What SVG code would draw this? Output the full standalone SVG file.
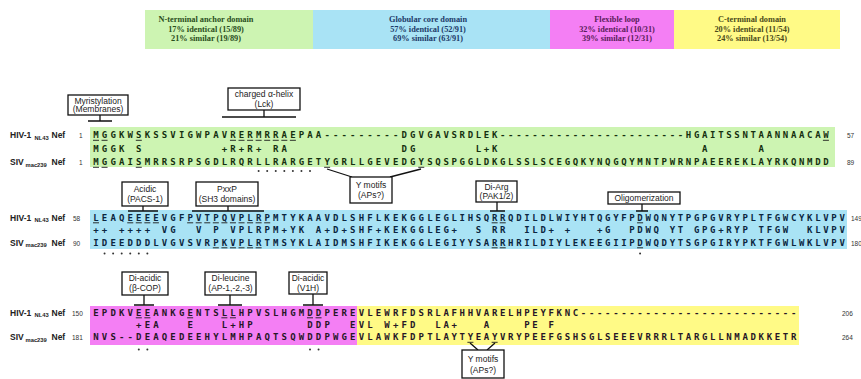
<svg xmlns="http://www.w3.org/2000/svg" width="861" height="379" viewBox="0 0 861 379">
<defs>
<style>
.hdr{font-family:"Liberation Serif",serif;font-weight:bold;font-size:8.3px;text-anchor:middle}
.lab{font-family:"Liberation Sans",Arial,sans-serif;font-size:8.5px;text-anchor:middle;fill:#222}
.box{fill:#fff;stroke:#111;stroke-width:1.3}
.tee{stroke:#111;stroke-width:1.3;fill:none}
.seq{font-family:"DejaVu Sans Mono",monospace;font-weight:bold;font-size:9px;white-space:pre}
.L{letter-spacing:3.142px}
.R{letter-spacing:2.662px}
.name{font-family:"Liberation Sans",Arial,sans-serif;font-weight:bold;font-size:8.5px;fill:#222}
.sub{font-size:5.8px}
.num{font-family:"Liberation Sans",Arial,sans-serif;font-size:6.5px;fill:#333}
.ul{stroke:#1a1a1a;stroke-width:0.9;fill:none}
.dot{fill:#333}
.g{fill:#cdf4b2}.c{fill:#a9e3f5}.m{fill:#f47ff4}.y{fill:#fffa86}
</style>
</defs>
<rect width="861" height="379" fill="#fff"/>

<g id="header">
<rect class="g" x="145" y="10" width="168" height="39"/>
<rect class="c" x="313" y="10" width="237" height="39"/>
<rect class="m" x="550" y="10" width="124" height="39"/>
<rect class="y" x="674" y="10" width="166" height="39"/>
<g class="hdr" fill="#2a4e1c">
<text x="206" y="22">N-terminal anchor domain</text>
<text x="206" y="32">17% identical (15/89)</text>
<text x="206" y="41">21% similar (19/89)</text>
</g>
<g class="hdr" fill="#1c3a68">
<text x="428" y="22">Globular core domain</text>
<text x="428" y="32">57% identical (52/91)</text>
<text x="428" y="41">69% similar (63/91)</text>
</g>
<g class="hdr" fill="#5a1c5a">
<text x="617" y="22">Flexible loop</text>
<text x="617" y="32">32% identical (10/31)</text>
<text x="617" y="41">39% similar (12/31)</text>
</g>
<g class="hdr" fill="#4a4a1a">
<text x="752" y="22">C-terminal domain</text>
<text x="752" y="32">20% identical (11/54)</text>
<text x="752" y="41">24% similar (13/54)</text>
</g>
</g>

<g id="bands">
<rect class="g" x="90" y="127" width="745" height="40"/>
<rect class="c" x="90" y="210" width="757" height="39"/>
<rect class="m" x="90" y="306" width="267" height="39"/>
<rect class="y" x="357" y="306" width="442" height="39"/>
</g>

<g id="labels">
<text class="name" x="10" y="138">HIV-1<tspan class="sub" x="34.5" dy="1.5">NL43</tspan><tspan x="51.5" dy="-1.5">Nef</tspan></text>
<text class="name" x="10" y="165">SIV<tspan class="sub" x="25.5" dy="1.5">mac239</tspan><tspan x="51.5" dy="-1.5">Nef</tspan></text>
<text class="name" x="10" y="220.5">HIV-1<tspan class="sub" x="34.5" dy="1.5">NL43</tspan><tspan x="51.5" dy="-1.5">Nef</tspan></text>
<text class="name" x="10" y="245.5">SIV<tspan class="sub" x="25.5" dy="1.5">mac239</tspan><tspan x="51.5" dy="-1.5">Nef</tspan></text>
<text class="name" x="10" y="315.5">HIV-1<tspan class="sub" x="34.5" dy="1.5">NL43</tspan><tspan x="51.5" dy="-1.5">Nef</tspan></text>
<text class="name" x="10" y="340">SIV<tspan class="sub" x="25.5" dy="1.5">mac239</tspan><tspan x="51.5" dy="-1.5">Nef</tspan></text>
<g class="num">
<text x="79" y="138">1</text><text x="79" y="165">1</text>
<text x="73" y="220.5">58</text><text x="73" y="245.5">90</text>
<text x="72" y="315.5">150</text><text x="72" y="340">181</text>
<text x="847" y="138">57</text><text x="847" y="165">89</text>
<text x="851" y="220.5">149</text><text x="851" y="245.5">180</text>
<text x="842" y="315.5">206</text><text x="842" y="340">264</text>
</g>
</g>

<g id="block1" class="seq" fill="#15300f">
<text class="L" x="93.29" y="138">MGGKWSKSSVIGWPAVRERMRRAEPAA---------DGVG</text>
<text class="R" x="435.37" y="138">AVSRDLEK-----------------------HGAITSSNTAANNAACAW</text>
<text class="L" x="93.29" y="151.5" xml:space="preserve">MGGK S         +R+R+ RA             DG</text>
<text class="R" x="435.37" y="151.5" xml:space="preserve">     L+K                         A      A</text>
<text class="L" x="93.29" y="165">MGGAISMRRSRPSGDLRQRLLRARGETYGRLLGEVEDGYS</text>
<text class="R" x="435.37" y="165">QSPGGLDKGLSSLSCEGQKYNQGQYMNTPWRNPAEEREKLAYRKQNMDD</text>
</g>

<g id="block2" class="seq" fill="#0b2640">
<text class="L" x="93.29" y="220.5">LEAQEEEEVGFPVTPQVPLRPMTYKAAVDLSHFLKEKGGL</text>
<text class="R" x="435.37" y="220.5">EGLIHSQRRQDILDLWIYHTQGYFPDWQNYTPGPGVRYPLTFGWCYKLVPV</text>
<text class="L" x="93.29" y="233" xml:space="preserve">++ ++++ VG  V P VPLRPM+YK A+D+SHF+KEKGGL</text>
<text class="R" x="435.37" y="233" xml:space="preserve">EG+  S RR  ILD+ +   +G  PDWQ YT GPG+RYP TFGW  KLVPV</text>
<text class="L" x="93.29" y="245.5">IDEEDDDLVGVSVRPKVPLRTMSYKLAIDMSHFIKEKGGL</text>
<text class="R" x="435.37" y="245.5">EGIYYSARRHRILDIYLEKEEGIIPDWQDYTSGPGIRYPKTFGWLWKLVPV</text>
</g>

<g id="block3" class="seq" fill="#261626">
<text class="L" x="93.29" y="315.5">EPDKVEEANKGENTSLLHPVSLHGMDDPEREVLEWRFDSR</text>
<text class="R" x="435.37" y="315.5">LAFHHVARELHPEYFKNC---------------------------</text>
<text class="L" x="93.29" y="328" xml:space="preserve">     +EA   E   L+HP      DDP  EVL W+FD</text>
<text class="R" x="435.37" y="328" xml:space="preserve">LA+   A    PE F</text>
<text class="L" x="93.29" y="340">NVS--DEAQEDEEHYLMHPAQTSQWDDPWGEVLAWKFDPT</text>
<text class="R" x="435.37" y="340">LAYTYEAYVRYPEEFGSHSGLSEEEVRRRLTARGLLNMADKKETR</text>
</g>

<g id="underlines" class="ul">
<path d="M93 140.3h6M101.56 140.3h6M135.8 140.3h6M229.96 140.3h6M238.52 140.3h6M247.08 140.3h6M255.64 140.3h6M264.2 140.3h6M272.76 140.3h6M281.32 140.3h6M289.88 140.3h6M822.92 140.3h6"/>
<path d="M93 167.3h6M101.56 167.3h6M135.8 167.3h6M324.12 167.3h6M418.28 167.3h6"/>
<path d="M93 222.8h6M127.24 222.8h6M135.8 222.8h6M144.36 222.8h6M152.92 222.8h6M187.16 222.8h6M195.72 222.8h6M204.28 222.8h6M212.84 222.8h6M221.4 222.8h6M229.96 222.8h6M238.52 222.8h6M247.08 222.8h6M255.64 222.8h6M264.2 222.8h6M491.64 222.8h6M499.72 222.8h6M637.08 222.8h6"/>
<path d="M212.84 247.8h6M221.4 247.8h6M229.96 247.8h6M238.52 247.8h6M247.08 247.8h6M255.64 247.8h6M491.64 247.8h6M499.72 247.8h6M637.08 247.8h6"/>
<path d="M135.8 317.8h6M144.36 317.8h6M187.16 317.8h6M221.4 317.8h6M229.96 317.8h6M307 317.8h6M315.56 317.8h6"/>
<path d="M467.4 342.3h6M491.64 342.3h6"/>
</g>

<g id="dots" class="dot">
<circle cx="258.64" cy="171" r="1"/><circle cx="267.2" cy="171" r="1"/><circle cx="275.76" cy="171" r="1"/><circle cx="284.32" cy="171" r="1"/><circle cx="292.88" cy="171" r="1"/><circle cx="301.44" cy="171" r="1"/><circle cx="310" cy="171" r="1"/>
<circle cx="104.56" cy="253.5" r="1"/><circle cx="113.12" cy="253.5" r="1"/><circle cx="121.68" cy="253.5" r="1"/><circle cx="130.24" cy="253.5" r="1"/><circle cx="138.8" cy="253.5" r="1"/><circle cx="147.36" cy="253.5" r="1"/><circle cx="640.08" cy="253.5" r="1"/>
<circle cx="138.8" cy="349.5" r="1"/><circle cx="147.36" cy="349.5" r="1"/><circle cx="310" cy="349.5" r="1"/><circle cx="318.56" cy="349.5" r="1"/>
</g>

<g id="connectors" class="tee">
<path d="M100 115V121M88 121H112"/>
<path d="M264 110V117M222 117H296"/>
<path d="M327 169L352 177M421 169L390 177"/>
<path d="M143 206V211M128 211H158"/>
<path d="M228 206V211M192 211H264"/>
<path d="M497 202V211M490 211H505"/>
<path d="M642 204V211M636 211H648"/>
<path d="M144 295V305M134 305H154"/>
<path d="M230 295V305M218 305H242"/>
<path d="M313 294V305M303 305H323"/>
<path d="M470 343L478 350M495 343L487 350"/>
</g>

<g id="n-myr"><rect class="box" x="68" y="95" width="60" height="20"/><text class="lab" x="98" y="103.5">Myristylation</text><text class="lab" x="98" y="112">(Membranes)</text></g>
<g id="n-helix"><rect class="box" x="228" y="88" width="72" height="22"/><text class="lab" x="264" y="97">charged α-helix</text><text class="lab" x="264" y="106.5">(Lck)</text></g>
<g id="n-ymotif1"><rect class="box" x="350" y="177" width="42" height="26"/><text class="lab" x="371" y="187.5">Y motifs</text><text class="lab" x="371" y="198">(APs?)</text></g>
<g id="n-acidic"><rect class="box" x="122" y="182" width="46" height="24"/><text class="lab" x="145" y="191.5">Acidic</text><text class="lab" x="145" y="201.5">(PACS-1)</text></g>
<g id="n-pxxp"><rect class="box" x="196" y="182" width="62" height="24"/><text class="lab" x="227" y="191.5">PxxP</text><text class="lab" x="227" y="201.5">(SH3 domains)</text></g>
<g id="n-diarg"><rect class="box" x="476" y="181" width="41" height="21"/><text class="lab" x="496.5" y="189.5">Di-Arg</text><text class="lab" x="496.5" y="199">(PAK1/2)</text></g>
<g id="n-oligo"><rect class="box" x="608" y="192" width="72" height="12"/><text class="lab" x="644" y="201">Oligomerization</text></g>
<g id="n-diacidic1"><rect class="box" x="122" y="272" width="46" height="23"/><text class="lab" x="145" y="281">Di-acidic</text><text class="lab" x="145" y="291">(β-COP)</text></g>
<g id="n-dileu"><rect class="box" x="205" y="272" width="51" height="23"/><text class="lab" x="230.5" y="281">Di-leucine</text><text class="lab" x="230.5" y="291">(AP-1,-2,-3)</text></g>
<g id="n-diacidic2"><rect class="box" x="289" y="272" width="38" height="22"/><text class="lab" x="308" y="281">Di-acidic</text><text class="lab" x="308" y="290.5">(V1H)</text></g>
<g id="n-ymotif2"><rect class="box" x="462" y="350" width="42" height="28"/><text class="lab" x="483" y="361.5">Y motifs</text><text class="lab" x="483" y="372.5">(APs?)</text></g>
</svg>
